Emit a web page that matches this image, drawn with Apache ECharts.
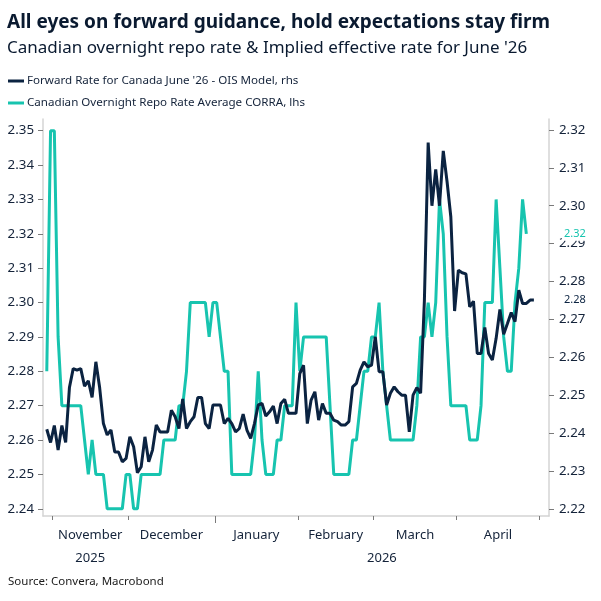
<!DOCTYPE html>
<html>
<head>
<meta charset="utf-8">
<script src="https://cdn.jsdelivr.net/npm/echarts@6.0.0/dist/echarts.min.js"></script>
<style>
  html, body { margin: 0; padding: 0; background: #fff; }
  #chart { width: 601px; height: 601px; }
</style>
</head>
<body>
<div id="chart"></div>
<script>
const FONT = '"Noto Sans", sans-serif'
const NAVY = '#0b2341'
const TEAL = '#17c4af'
const TEXT = '#14233a'

// weekdays on the axis
const firstDay = '2025-10-29'
const lastDay = '2026-05-05'

const monthNames = ['November', 'December', 'January', 'February', 'March', 'April']
const yearNames = ['2025', '2026']

const leftTicks = [2.24, 2.25, 2.26, 2.27, 2.28, 2.29, 2.3, 2.31, 2.32, 2.33, 2.34, 2.35]
const rightTicks = [2.22, 2.23, 2.24, 2.25, 2.26, 2.27, 2.28, 2.29, 2.3, 2.31, 2.32]

// CORRA average, lhs (daily, from 30 Oct 2025)
const corra = [
  2.28, 2.35, 2.35, 2.29, 2.27, 2.27, 2.27, 2.27, 2.27, 2.27,
  2.26, 2.25, 2.26, 2.25, 2.25, 2.25, 2.24, 2.24, 2.24, 2.24,
  2.24, 2.25, 2.25, 2.24, 2.24, 2.25, 2.25, 2.25, 2.25, 2.25,
  2.25, 2.26, 2.26, 2.26, 2.26, 2.27, 2.27, 2.28, 2.30, 2.30,
  2.30, 2.30, 2.30, 2.29, 2.30, 2.30, 2.29, 2.28, 2.28, 2.25,
  2.25, 2.25, 2.25, 2.25, 2.25, 2.26, 2.28, 2.26, 2.25, 2.25,
  2.25, 2.26, 2.26, 2.27, 2.27, 2.27, 2.30, 2.28, 2.29, 2.29,
  2.29, 2.29, 2.29, 2.29, 2.29, 2.27, 2.25, 2.25, 2.25, 2.25,
  2.25, 2.26, 2.26, 2.27, 2.28, 2.28, 2.29, 2.29, 2.30, 2.28,
  2.27, 2.26, 2.26, 2.26, 2.26, 2.26, 2.26, 2.26, 2.27, 2.29,
  2.29, 2.30, 2.29, 2.30, 2.33, 2.32, 2.29, 2.27, 2.27, 2.27,
  2.27, 2.27, 2.26, 2.26, 2.26, 2.27, 2.30, 2.30, 2.30, 2.33,
  2.31, 2.29, 2.28, 2.28, 2.30, 2.31, 2.33, 2.32
]

// forward rate for June '26 from OIS, rhs (daily, from 30 Oct 2025)
const forward = [
  2.241, 2.2375, 2.242, 2.2355, 2.242, 2.2375, 2.252, 2.257, 2.2566, 2.257,
  2.2524, 2.2538, 2.2494, 2.2588, 2.252, 2.2425, 2.2395, 2.2408, 2.235, 2.235,
  2.2324, 2.2333, 2.239, 2.2364, 2.2295, 2.2311, 2.239, 2.2324, 2.2355, 2.2421,
  2.2403, 2.2403, 2.2403, 2.246, 2.2443, 2.2412, 2.249, 2.2412, 2.243, 2.2443,
  2.2494, 2.2494, 2.2425, 2.2412, 2.2474, 2.2474, 2.2474, 2.2425, 2.2439, 2.2425,
  2.2403, 2.2412, 2.245, 2.2408, 2.2386, 2.2425, 2.2474, 2.2478, 2.2445, 2.2456,
  2.2471, 2.2425, 2.2478, 2.2489, 2.2452, 2.2452, 2.2452, 2.2557, 2.2579, 2.2425,
  2.2487, 2.2509, 2.2434, 2.2478, 2.2452, 2.2452, 2.2434, 2.243, 2.2421, 2.2421,
  2.243, 2.2522, 2.2531, 2.2566, 2.2588, 2.2575, 2.2579, 2.2654, 2.2562, 2.2562,
  2.2474, 2.2505, 2.2522, 2.2509, 2.25, 2.25, 2.2403, 2.25, 2.252, 2.2505,
  2.275, 2.3167, 2.30, 2.3096, 2.30, 2.3145, 2.3064, 2.2971, 2.2722, 2.283,
  2.2823, 2.282, 2.2733, 2.2748, 2.261, 2.261, 2.2679, 2.261, 2.2593, 2.265,
  2.2726, 2.2661, 2.2689, 2.2718, 2.2694, 2.2777, 2.2742, 2.2742, 2.2751, 2.2751
]

const dates = []
for (let d = new Date(firstDay + 'T00:00:00Z'); d <= new Date(lastDay + 'T00:00:00Z'); d.setUTCDate(d.getUTCDate() + 1)) {
  const wd = d.getUTCDay()
  if (wd !== 0 && wd !== 6) dates.push(d.toISOString().slice(0, 10))
}
const lastIdx = dates.length - 1

// month boundaries sit between the last and first weekday
const monthTicks = []
dates.forEach((d, i) => {
  if (i > 0 && d.slice(5, 7) !== dates[i - 1].slice(5, 7)) monthTicks.push(i - 0.5)
})
const monthLabelPos = monthNames.map((_, i) => (monthTicks[i] + monthTicks[i + 1]) / 2)
const janTick = monthTicks[2]
const yearLabelPos = [monthLabelPos[0], (janTick + lastIdx) / 2]

const labelAt = (positions, names) => (v) => {
  const i = positions.findIndex((p) => Math.abs(p - v) < 0.01)
  return i < 0 ? '' : names[i]
}

const pad = (arr) => [null].concat(arr)

const axisGrey = '#d4d4d4'
const tickGrey = '#7a7a7a'

const hiddenX = {
  type: 'value',
  position: 'bottom',
  min: 0,
  max: lastIdx,
  splitLine: { show: false },
  axisLine: { show: false, onZero: false },
}

const chart = echarts.init(document.getElementById('chart'))
chart.setOption({
  animation: false,
  backgroundColor: '#fff',
  textStyle: { fontFamily: FONT },
  title: [
    {
      text: 'All eyes on forward guidance, hold expectations stay firm',
      subtext: "Canadian overnight repo rate & Implied effective rate for June '26",
      left: 2,
      top: 8,
      itemGap: 8,
      textStyle: { fontFamily: FONT, fontSize: 19, fontWeight: 'bold', color: '#0a1a30' },
      subtextStyle: { fontFamily: FONT, fontSize: 17, color: '#0a1a30' },
    },
    {
      text: 'Source: Convera, Macrobond',
      left: 3,
      top: 571,
      textStyle: { fontFamily: FONT, fontSize: 11.5, fontWeight: 'normal', color: '#1a1a1a' },
    },
  ],
  legend: {
    orient: 'vertical',
    left: 8,
    top: 73,
    padding: 0,
    icon: 'rect',
    itemWidth: 16,
    itemHeight: 3,
    itemGap: 6,
    data: ["Forward Rate for Canada June '26 - OIS Model, rhs", 'Canadian Overnight Repo Rate Average CORRA, lhs'],
    textStyle: { fontFamily: FONT, fontSize: 11.6, lineHeight: 16, color: TEXT, padding: [0, 0, 0, -2] },
  },
  grid: { left: 43, right: 52, top: 119, bottom: 85 },
  xAxis: [
    {
      type: 'category',
      position: 'bottom',
      data: dates,
      boundaryGap: false,
      axisLine: { show: true, onZero: false, lineStyle: { color: axisGrey, width: 1.5 } },
      axisTick: { show: false },
      axisLabel: { show: false },
      splitLine: { show: false },
    },
    {
      ...hiddenX,
      axisTick: { show: true, customValues: monthTicks, length: 4, lineStyle: { color: tickGrey } },
      axisLabel: {
        customValues: monthLabelPos,
        formatter: labelAt(monthLabelPos, monthNames),
        margin: 13,
        fontFamily: FONT,
        fontSize: 13,
        color: TEXT,
      },
    },
    {
      ...hiddenX,
      axisTick: { show: true, customValues: [janTick], length: 7, lineStyle: { color: tickGrey } },
      axisLabel: {
        customValues: yearLabelPos,
        formatter: labelAt(yearLabelPos, yearNames),
        margin: 36,
        fontFamily: FONT,
        fontSize: 13,
        color: TEXT,
      },
    },
  ],
  yAxis: [
    {
      type: 'value',
      position: 'left',
      min: 2.2379,
      max: 2.3534,
      splitLine: { show: false },
      axisLine: { show: true, onZero: false, lineStyle: { color: axisGrey, width: 1.5 } },
      axisTick: { show: true, customValues: leftTicks, length: 5, lineStyle: { color: tickGrey } },
      axisLabel: { customValues: leftTicks, formatter: (v) => v.toFixed(2), margin: 9, fontFamily: FONT, fontSize: 13.3, color: TEXT },
    },
    {
      type: 'value',
      position: 'right',
      min: 2.2181,
      max: 2.3229,
      splitLine: { show: false },
      axisLine: { show: true, onZero: false, lineStyle: { color: axisGrey, width: 1.5 } },
      axisTick: { show: true, customValues: rightTicks, length: 5, lineStyle: { color: tickGrey } },
      axisLabel: { customValues: rightTicks, formatter: (v) => v.toFixed(2), margin: 10, fontFamily: FONT, fontSize: 13.3, color: TEXT },
    },
    // last-value tags on the right side
    {
      type: 'value',
      position: 'right',
      min: 2.2379,
      max: 2.3534,
      z: 5,
      splitLine: { show: false },
      axisLine: { show: false, onZero: false },
      axisTick: { show: false },
      axisLabel: {
        customValues: [corra[corra.length - 1]],
        formatter: (v) => v.toFixed(2),
        margin: 13,
        fontFamily: FONT,
        fontSize: 11,
        color: TEAL,
        backgroundColor: '#fff',
        padding: [1, 3, 2, 2],
      },
    },
    {
      type: 'value',
      position: 'right',
      min: 2.2181,
      max: 2.3229,
      z: 5,
      splitLine: { show: false },
      axisLine: { show: false, onZero: false },
      axisTick: { show: false },
      axisLabel: {
        customValues: [forward[forward.length - 1]],
        formatter: (v) => v.toFixed(2),
        margin: 13,
        fontFamily: FONT,
        fontSize: 11,
        color: NAVY,
        backgroundColor: '#fff',
        padding: [1, 2, 1, 2],
      },
    },
  ],
  series: [
    {
      name: 'Canadian Overnight Repo Rate Average CORRA, lhs',
      type: 'line',
      xAxisIndex: 0,
      yAxisIndex: 0,
      data: pad(corra),
      showSymbol: false,
      color: TEAL,
      lineStyle: { width: 3, color: TEAL },
    },
    {
      name: "Forward Rate for Canada June '26 - OIS Model, rhs",
      type: 'line',
      xAxisIndex: 0,
      yAxisIndex: 1,
      data: pad(forward),
      showSymbol: false,
      color: NAVY,
      lineStyle: { width: 3, color: NAVY },
    },
  ],
})
</script>
</body>
</html>
